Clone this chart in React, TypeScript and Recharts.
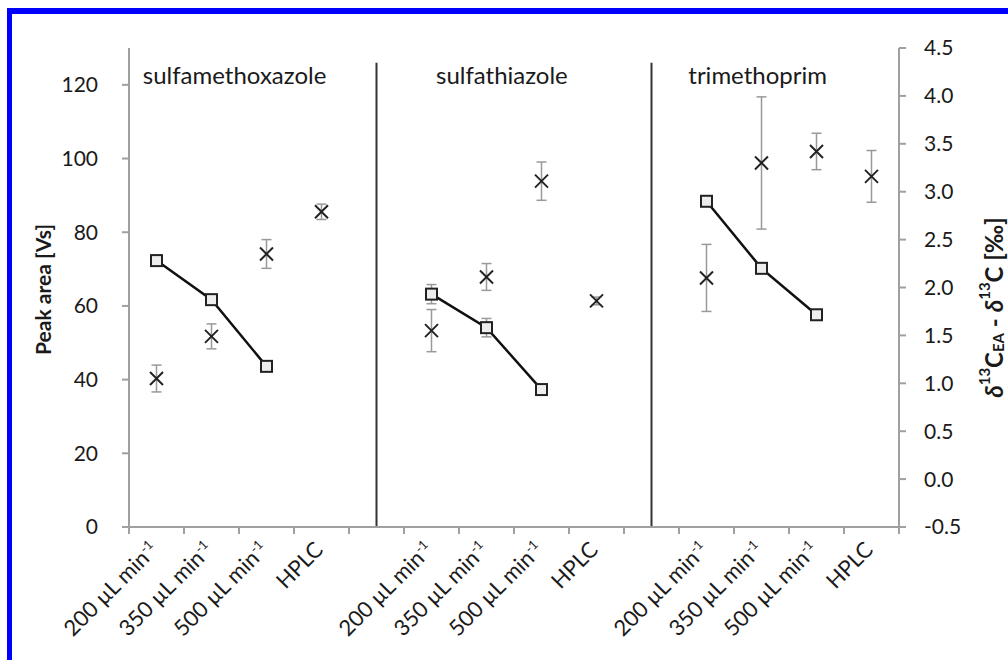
import React from 'react'
import {
  ComposedChart,
  Line,
  XAxis,
  YAxis,
  ErrorBar,
  ReferenceLine,
  ReferenceDot,
} from 'recharts'

// 14 slots: 4 conditions per compound, one empty slot between compounds
const flowLabels = [
  '200 µL min', '350 µL min', '500 µL min', 'HPLC', '',
  '200 µL min', '350 µL min', '500 µL min', 'HPLC', '',
  '200 µL min', '350 µL min', '500 µL min', 'HPLC',
]
const compounds = ['sulfamethoxazole', 'sulfathiazole', 'trimethoprim']

const peakArea = [72.3, 61.7, 43.6, null, null, 63.2, 54.1, 37.3, null, null, 88.4, 70.2, 57.6, null]
const peakAreaErr = [null, null, null, null, null, 2.6, 2.5, null, null, null, null, null, null, null]
const deltaC = [1.05, 1.49, 2.35, 2.79, null, 1.55, 2.11, 3.11, 1.86, null, 2.1, 3.3, 3.42, 3.16]
const deltaCErr = [0.14, 0.13, 0.15, 0.08, null, 0.22, 0.14, 0.2, 0.04, null, 0.35, 0.69, 0.19, 0.27]

const areaTicks = [0, 20, 40, 60, 80, 100, 120]
const deltaTicks = [-0.5, 0, 0.5, 1, 1.5, 2, 2.5, 3, 3.5, 4, 4.5]
const slotEdges = Array.from({ length: 15 }, (_, i) => i)

const data = flowLabels.map((flow, i) => ({
  slot: i,
  flow,
  area: peakArea[i],
  areaErr: peakAreaErr[i],
  delta: deltaC[i],
  deltaErr: deltaCErr[i],
}))

const AXIS = '#a0a0a0'
const INK = '#1a1a1a'

function FlowTick({ x, y, payload }: any) {
  const label = flowLabels[payload.value]
  if (!label) return <g />
  const ax = x + 3
  const ay = y + 9
  return (
    <text
      x={ax}
      y={ay}
      textAnchor="end"
      transform={`rotate(-45, ${ax}, ${ay})`}
      fontSize={22}
      fill={INK}
    >
      {label}
      {label !== 'HPLC' && (
        <tspan dy={-8} fontSize={13}>
          -1
        </tspan>
      )}
    </text>
  )
}

function squareDot(props: any) {
  const { cx, cy, index } = props
  if (cx == null || cy == null) return <g key={index} />
  return (
    <rect
      key={index}
      x={cx - 5.5}
      y={cy - 5.5}
      width={11}
      height={11}
      fill="#eee"
      stroke="#222"
      strokeWidth={2}
    />
  )
}

function crossDot(props: any) {
  const { cx, cy, index } = props
  if (cx == null || cy == null) return <g key={index} />
  const s = 6.5
  return (
    <g key={index} stroke="#222" strokeWidth={2}>
      <line x1={cx - s} y1={cy - s} x2={cx + s} y2={cy + s} />
      <line x1={cx - s} y1={cy + s} x2={cx + s} y2={cy - s} />
    </g>
  )
}

function LeftTitle({ viewBox }: any) {
  const cx = viewBox.x + 30
  const cy = viewBox.y + viewBox.height / 2 + 2
  return (
    <text
      x={cx}
      y={cy}
      textAnchor="middle"
      dominantBaseline="central"
      transform={`rotate(-90, ${cx}, ${cy})`}
      fontSize={21}
      fontWeight="bold"
      fill={INK}
    >
      Peak area [Vs]
    </text>
  )
}

function RightTitle({ viewBox }: any) {
  const cx = viewBox.x + 94
  const cy = viewBox.y + viewBox.height / 2 + 20
  return (
    <text
      x={cx}
      y={cy}
      textAnchor="middle"
      dominantBaseline="central"
      transform={`rotate(-90, ${cx}, ${cy})`}
      fontSize={24}
      fontWeight="bold"
      fill={INK}
    >
      <tspan fontStyle="italic">δ</tspan>
      <tspan dy={-9} fontSize={15}>13</tspan>
      <tspan dy={9}>C</tspan>
      <tspan dy={5} fontSize={15}>EA</tspan>
      <tspan dy={-5}> - </tspan>
      <tspan fontStyle="italic">δ</tspan>
      <tspan dy={-9} fontSize={15}>13</tspan>
      <tspan dy={9}>C [‰]</tspan>
    </text>
  )
}

export default function App() {
  return (
    <div
      style={{
        position: 'absolute',
        left: 7,
        top: 8,
        width: 1001,
        height: 652,
        boxSizing: 'border-box',
        borderTop: '6px solid #0000ff',
        borderLeft: '5px solid #0000ff',
        background: '#fff',
        fontFamily: 'Lato, "Open Sans", sans-serif',
      }}
    >
      <ComposedChart
        width={996}
        height={646}
        data={data}
        margin={{ top: 34, right: 0, bottom: 0, left: 0 }}
      >
        <XAxis
          xAxisId="b_slots"
          dataKey="slot"
          type="category"
          interval={0}
          height={126}
          padding={{ left: 27.5, right: 27.5 }}
          axisLine={false}
          tickLine={false}
          tick={<FlowTick />}
        />
        <XAxis
          xAxisId="a_edges"
          dataKey="slot"
          type="number"
          domain={[0, 14]}
          allowDataOverflow
          ticks={slotEdges}
          interval={0}
          height={7}
          axisLine={{ stroke: AXIS, strokeWidth: 2 }}
          tick={() => <g />}
          tickSize={7}
          tickLine={{ stroke: AXIS, strokeWidth: 2 }}
        />
        <YAxis
          yAxisId="left"
          domain={[0, 130]}
          ticks={areaTicks}
          interval={0}
          width={117}
          axisLine={{ stroke: AXIS, strokeWidth: 2 }}
          tickLine={{ stroke: AXIS, strokeWidth: 2 }}
          tickSize={7}
          tickMargin={24}
          tick={{ fontSize: 21, fill: INK }}
          label={{ content: (p: any) => <LeftTitle viewBox={p.viewBox} /> }}
        />
        <YAxis
          yAxisId="right"
          orientation="right"
          domain={[-0.5, 4.5]}
          ticks={deltaTicks}
          interval={0}
          width={109}
          axisLine={{ stroke: AXIS, strokeWidth: 2 }}
          tickLine={{ stroke: AXIS, strokeWidth: 2 }}
          tickSize={7}
          tickMargin={18}
          tick={{ fontSize: 21, fill: INK }}
          tickFormatter={(v: number) => v.toFixed(1)}
          label={{ content: (p: any) => <RightTitle viewBox={p.viewBox} /> }}
        />

        {[4.5, 9.5].map((s) => (
          <ReferenceLine
            key={s}
            xAxisId="a_edges"
            yAxisId="left"
            segment={[
              { x: s, y: 0 },
              { x: s, y: 126 },
            ]}
            stroke="#333"
            strokeWidth={2}
          />
        ))}

        {compounds.map((name, i) => (
          <ReferenceDot
            key={name}
            xAxisId="a_edges"
            yAxisId="left"
            x={[1.92, 6.78, 11.43][i]}
            y={122.6}
            r={0}
            ifOverflow="visible"
            label={{ value: name, position: 'center', fontSize: 24, fill: INK }}
          />
        ))}

        <Line
          xAxisId="b_slots"
          yAxisId="left"
          dataKey="area"
          stroke="#111"
          strokeWidth={2.5}
          dot={squareDot}
          activeDot={false}
          legendType="none"
          isAnimationActive={false}
        >
          <ErrorBar dataKey="areaErr" width={5} stroke="#999" strokeWidth={1.5} />
        </Line>
        <Line
          xAxisId="b_slots"
          yAxisId="right"
          dataKey="delta"
          stroke="none"
          dot={crossDot}
          activeDot={false}
          legendType="none"
          isAnimationActive={false}
        >
          <ErrorBar dataKey="deltaErr" width={5} stroke="#999" strokeWidth={1.5} />
        </Line>
      </ComposedChart>
    </div>
  )
}
